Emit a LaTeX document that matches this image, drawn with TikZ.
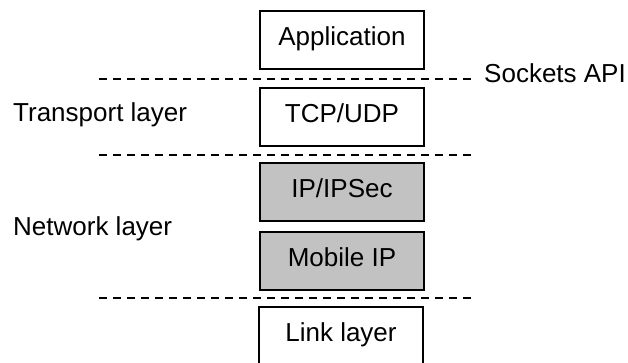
\documentclass[tikz,border=0pt]{standalone}
\usepackage{fontspec}
\setmainfont{Liberation Sans}
\begin{document}
\begin{tikzpicture}[x=1pt,y=-1pt,
  layerbox/.style={draw=black, line width=2pt, minimum width=164pt, minimum height=58pt,
    inner sep=0pt, font=\fontsize{26}{30}\selectfont, text height=18pt, text depth=7pt},
  grayfill/.style={fill=gray!48},
  sepline/.style={line width=2pt, dash pattern=on 8pt off 6pt},
  sidelabel/.style={font=\fontsize{26}{30}\selectfont, inner sep=0pt}]
\useasboundingbox (0,0) rectangle (628,362);
\clip (0,0) rectangle (628,362);
\node[layerbox] (app) at (342,40) {Application};
\node[layerbox] (tcp) at (342,116.5) {TCP/UDP};
\node[layerbox,grayfill] (ip) at (342,192) {IP/IPSec};
\node[layerbox,grayfill] (mip) at (342,261) {Mobile IP};
\node[layerbox] (link) at (341,336) {Link layer};
\coordinate (s1a) at (99,79);  \coordinate (s1b) at (473,79);
\coordinate (s2a) at (99,155); \coordinate (s2b) at (473,155);
\coordinate (s3a) at (99,298); \coordinate (s3b) at (473,298);
\draw[sepline] (s1a) -- (s1b);
\draw[sepline] (s2a) -- (s2b);
\draw[sepline] (s3a) -- (s3b);
\node[sidelabel, anchor=base west] (sock) at (484,82) {Sockets API};
\node[sidelabel, anchor=base west] (trans) at (13,121) {Transport layer};
\node[sidelabel, anchor=base west] (net) at (13,235) {Network layer};
\end{tikzpicture}
\end{document}
